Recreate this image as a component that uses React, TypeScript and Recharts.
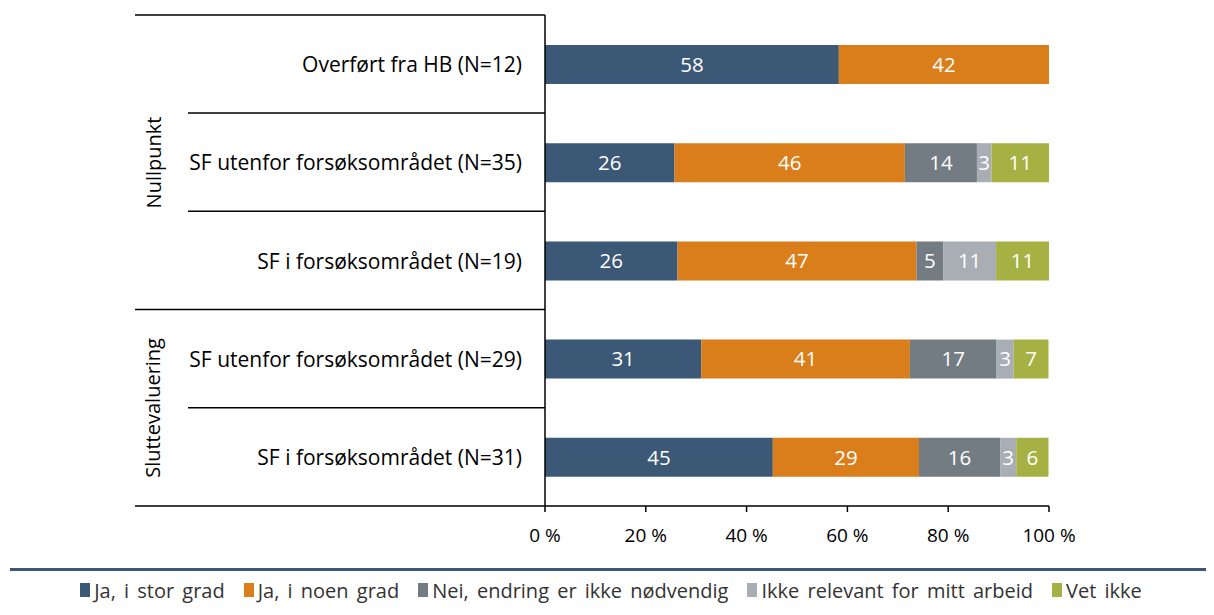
import { BarChart, Bar, XAxis, YAxis, Legend, LabelList } from 'recharts';

const categories = [
  'Overført fra HB (N=12)',
  'SF utenfor forsøksområdet (N=35)',
  'SF i forsøksområdet (N=19)',
  'SF utenfor forsøksområdet (N=29)',
  'SF i forsøksområdet (N=31)',
];
const groups = ['Nullpunkt', 'Nullpunkt', 'Nullpunkt', 'Sluttevaluering', 'Sluttevaluering'];

// shares in percent, labels are rounded
const storGrad = [58.3, 25.7, 26.3, 31.0, 45.2];
const noenGrad = [41.7, 45.7, 47.4, 41.4, 29.0];
const ikkeNodvendig = [0, 14.3, 5.3, 17.2, 16.1];
const ikkeRelevant = [0, 2.9, 10.5, 3.4, 3.2];
const vetIkke = [0, 11.4, 10.5, 6.9, 6.4];

const xTicks = [0, 20, 40, 60, 80, 100];

const series = [
  { key: 'storGrad', name: 'Ja, i stor grad', color: '#3b5876' },
  { key: 'noenGrad', name: 'Ja, i noen grad', color: '#d97e1a' },
  { key: 'ikkeNodvendig', name: 'Nei, endring er ikke nødvendig', color: '#737b83' },
  { key: 'ikkeRelevant', name: 'Ikke relevant for mitt arbeid', color: '#a8aeb4' },
  { key: 'vetIkke', name: 'Vet ikke', color: '#a5b243' },
];

const data = categories.map((name, i) => ({
  name,
  group: groups[i],
  storGrad: storGrad[i],
  noenGrad: noenGrad[i],
  ikkeNodvendig: ikkeNodvendig[i],
  ikkeRelevant: ikkeRelevant[i],
  vetIkke: vetIkke[i],
}));

const FONT = '"Open Sans", sans-serif';
const W = 1206;
const H = 600;
const MARGIN = { top: 7, right: 165, bottom: 0, left: 0 };
const YAXIS_W = 537;
const XAXIS_H = 61;
const LEGEND_H = 40;
const PLOT_H = H - MARGIN.top - MARGIN.bottom - XAXIS_H - LEGEND_H;
const ROW_H = PLOT_H / categories.length;

function CategoryTick(props: any) {
  const { y, payload, index } = props;
  const top = y - ROW_H / 2;
  const first = index === 0 || groups[index] !== groups[index - 1];
  const last = index === categories.length - 1;
  let groupLabel = null;
  if (first) {
    let n = 0;
    while (groups[index + n] === groups[index]) n++;
    const cy = top + (n * ROW_H) / 2;
    groupLabel = (
      <text
        x={145}
        y={cy}
        transform={`rotate(-90 145 ${cy})`}
        textAnchor="middle"
        dominantBaseline="central"
        fontSize={20}
        fontFamily={FONT}
        fill="#000"
      >
        {groups[index]}
      </text>
    );
  }
  return (
    <g>
      <line x1={first ? 127 : 180} x2={YAXIS_W} y1={top} y2={top} stroke="#000" strokeWidth={1.5} />
      {last && <line x1={127} x2={YAXIS_W} y1={top + ROW_H} y2={top + ROW_H} stroke="#000" strokeWidth={1.5} />}
      {groupLabel}
      <text
        x={YAXIS_W - 23}
        y={y}
        textAnchor="end"
        dominantBaseline="central"
        fontSize={21}
        fontFamily={FONT}
        fill="#000"
      >
        {payload.value}
      </text>
    </g>
  );
}

function LegendContent() {
  return (
    <div style={{ height: LEGEND_H, fontFamily: FONT }}>
      <div style={{ height: 3, background: '#3b5876', marginLeft: 2, marginTop: 1 }} />
      <div
        style={{
          display: 'flex',
          justifyContent: 'center',
          alignItems: 'center',
          gap: 19,
          marginTop: 9,
          height: 20,
          fontSize: 20,
          wordSpacing: 3,
          color: '#333',
        }}
      >
        {series.map((s) => (
          <div key={s.key} style={{ display: 'flex', alignItems: 'center', gap: 4 }}>
            <span style={{ display: 'inline-block', width: 10, height: 14, background: s.color }} />
            <span>{s.name}</span>
          </div>
        ))}
      </div>
    </div>
  );
}

export default function App() {
  return (
    <BarChart width={W} height={H} data={data} layout="vertical" margin={MARGIN} barSize={39}>
      <XAxis
        type="number"
        domain={[0, 100]}
        ticks={xTicks}
        tickFormatter={(v) => `${v} %`}
        height={XAXIS_H}
        axisLine={{ stroke: '#000', strokeWidth: 1.5 }}
        tickLine={{ stroke: '#000', strokeWidth: 1.5 }}
        tickSize={6}
        tickMargin={17}
        tick={{ fontSize: 19, fontFamily: FONT, fill: '#000' }}
        interval={0}
      />
      <YAxis
        type="category"
        dataKey="name"
        width={YAXIS_W}
        axisLine={{ stroke: '#000', strokeWidth: 1.5 }}
        tickLine={false}
        tick={<CategoryTick />}
        interval={0}
      />
      <Legend verticalAlign="bottom" content={<LegendContent />} wrapperStyle={{ left: 0, bottom: 0, width: W }} />
      {series.map((s) => (
        <Bar key={s.key} dataKey={s.key} name={s.name} stackId="a" fill={s.color} isAnimationActive={false}>
          <LabelList
            dataKey={s.key}
            position="center"
            formatter={(v: any) => (v > 0 ? Math.round(v) : '')}
            fill="#fff"
            fontSize={20.5}
            fontFamily={FONT}
          />
        </Bar>
      ))}
    </BarChart>
  );
}
